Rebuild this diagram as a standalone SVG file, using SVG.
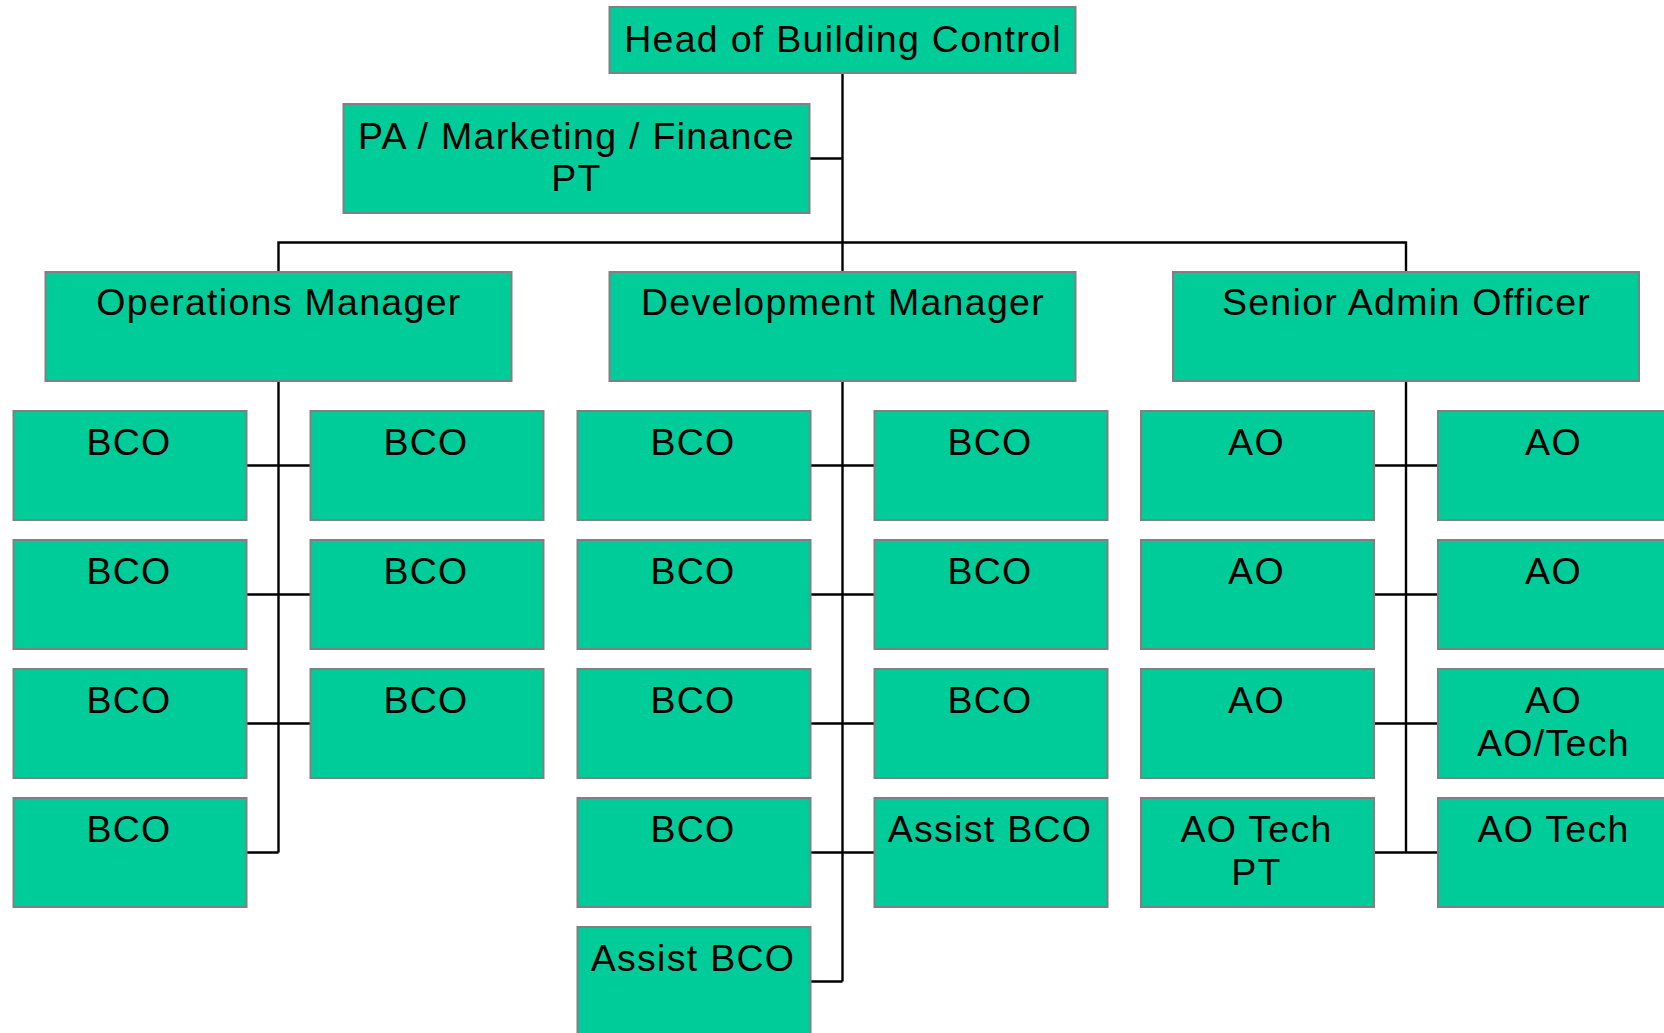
<svg xmlns="http://www.w3.org/2000/svg" width="1664" height="1033" viewBox="0 0 1664 1033">
  <style>
    .box { fill: #00CC99; stroke: #808080; stroke-width: 2; }
    .lbl { font-family: "Liberation Sans", Arial, sans-serif; font-size: 37.5px; fill: #000; text-anchor: middle; letter-spacing: 1.3px; }
    .wire { fill: none; stroke: #000; stroke-width: 2.4; }
  </style>
  <rect width="1664" height="1033" fill="#fff"/>

  <!-- connectors -->
  <g id="connectors" class="wire">
    <!-- head down to development manager -->
    <path d="M842.5 73 V272"/>
    <!-- PA side branch -->
    <path d="M809.5 158.5 H842.5"/>
    <!-- manager bus -->
    <path d="M278.5 272 V242.5 H1406 V272"/>
    <!-- operations team -->
    <path d="M278.5 380 V852.5"/>
    <path d="M246.5 465.5 H310.5 M246.5 594.5 H310.5 M246.5 723.5 H310.5 M246.5 852.5 H278.5"/>
    <!-- development team -->
    <path d="M842.5 380 V981.5"/>
    <path d="M810.5 465.5 H874.5 M810.5 594.5 H874.5 M810.5 723.5 H874.5 M810.5 852.5 H874.5 M810.5 981.5 H842.5"/>
    <!-- admin team -->
    <path d="M1406 380 V852.5"/>
    <path d="M1374 465.5 H1438 M1374 594.5 H1438 M1374 723.5 H1438 M1374 852.5 H1438"/>
  </g>

  <!-- top level -->
  <g id="head">
    <rect class="box" x="609.5" y="7" width="466" height="66"/>
    <text class="lbl" x="843" y="52">Head of Building Control</text>
  </g>
  <g id="pa">
    <rect class="box" x="343.5" y="104" width="466" height="109"/>
    <text class="lbl" x="576.5" y="148.5">PA / Marketing / Finance</text>
    <text class="lbl" x="576.5" y="190.5">PT</text>
  </g>

  <!-- managers -->
  <g id="ops-manager">
    <rect class="box" x="45.5" y="272" width="466" height="109"/>
    <text class="lbl" x="279" y="315">Operations Manager</text>
  </g>
  <g id="dev-manager">
    <rect class="box" x="609.5" y="272" width="466" height="109"/>
    <text class="lbl" x="843" y="315">Development Manager</text>
  </g>
  <g id="admin-manager">
    <rect class="box" x="1173" y="272" width="466" height="109"/>
    <text class="lbl" x="1406.5" y="315">Senior Admin Officer</text>
  </g>

  <!-- operations team -->
  <g id="ops-l1"><rect class="box" x="13.5" y="411" width="233" height="109"/><text class="lbl" x="129" y="455">BCO</text></g>
  <g id="ops-r1"><rect class="box" x="310.5" y="411" width="233" height="109"/><text class="lbl" x="426" y="455">BCO</text></g>
  <g id="ops-l2"><rect class="box" x="13.5" y="540" width="233" height="109"/><text class="lbl" x="129" y="584">BCO</text></g>
  <g id="ops-r2"><rect class="box" x="310.5" y="540" width="233" height="109"/><text class="lbl" x="426" y="584">BCO</text></g>
  <g id="ops-l3"><rect class="box" x="13.5" y="669" width="233" height="109"/><text class="lbl" x="129" y="713">BCO</text></g>
  <g id="ops-r3"><rect class="box" x="310.5" y="669" width="233" height="109"/><text class="lbl" x="426" y="713">BCO</text></g>
  <g id="ops-l4"><rect class="box" x="13.5" y="798" width="233" height="109"/><text class="lbl" x="129" y="842">BCO</text></g>

  <!-- development team -->
  <g id="dev-l1"><rect class="box" x="577.5" y="411" width="233" height="109"/><text class="lbl" x="693" y="455">BCO</text></g>
  <g id="dev-r1"><rect class="box" x="874.5" y="411" width="233" height="109"/><text class="lbl" x="990" y="455">BCO</text></g>
  <g id="dev-l2"><rect class="box" x="577.5" y="540" width="233" height="109"/><text class="lbl" x="693" y="584">BCO</text></g>
  <g id="dev-r2"><rect class="box" x="874.5" y="540" width="233" height="109"/><text class="lbl" x="990" y="584">BCO</text></g>
  <g id="dev-l3"><rect class="box" x="577.5" y="669" width="233" height="109"/><text class="lbl" x="693" y="713">BCO</text></g>
  <g id="dev-r3"><rect class="box" x="874.5" y="669" width="233" height="109"/><text class="lbl" x="990" y="713">BCO</text></g>
  <g id="dev-l4"><rect class="box" x="577.5" y="798" width="233" height="109"/><text class="lbl" x="693" y="842">BCO</text></g>
  <g id="dev-r4"><rect class="box" x="874.5" y="798" width="233" height="109"/><text class="lbl" x="990" y="842">Assist BCO</text></g>
  <g id="dev-l5"><rect class="box" x="577.5" y="927" width="233" height="109"/><text class="lbl" x="693" y="971">Assist BCO</text></g>

  <!-- admin team -->
  <g id="adm-l1"><rect class="box" x="1141" y="411" width="233" height="109"/><text class="lbl" x="1256.5" y="455">AO</text></g>
  <g id="adm-r1"><rect class="box" x="1438" y="411" width="233" height="109"/><text class="lbl" x="1553.5" y="455">AO</text></g>
  <g id="adm-l2"><rect class="box" x="1141" y="540" width="233" height="109"/><text class="lbl" x="1256.5" y="584">AO</text></g>
  <g id="adm-r2"><rect class="box" x="1438" y="540" width="233" height="109"/><text class="lbl" x="1553.5" y="584">AO</text></g>
  <g id="adm-l3"><rect class="box" x="1141" y="669" width="233" height="109"/><text class="lbl" x="1256.5" y="713">AO</text></g>
  <g id="adm-r3"><rect class="box" x="1438" y="669" width="233" height="109"/><text class="lbl" x="1553.5" y="713">AO</text><text class="lbl" x="1553.5" y="756">AO/Tech</text></g>
  <g id="adm-l4"><rect class="box" x="1141" y="798" width="233" height="109"/><text class="lbl" x="1256.5" y="842">AO Tech</text><text class="lbl" x="1256.5" y="885">PT</text></g>
  <g id="adm-r4"><rect class="box" x="1438" y="798" width="233" height="109"/><text class="lbl" x="1553.5" y="842">AO Tech</text></g>
</svg>
